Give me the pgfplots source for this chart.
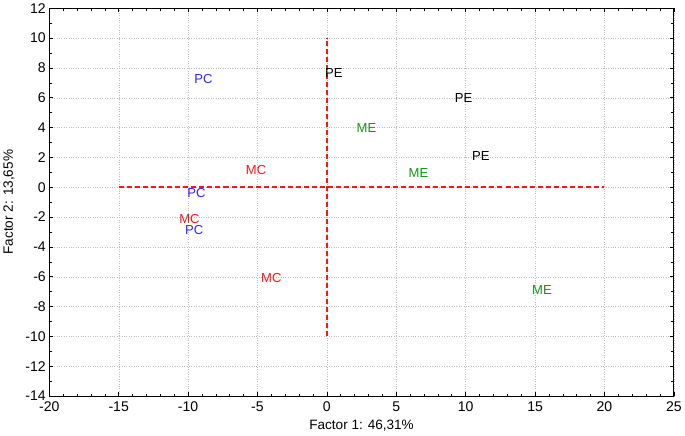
\documentclass[border=0pt]{standalone}
\usepackage{fontspec}
\setmainfont{Liberation Sans}
\usepackage{pgfplots}
\pgfplotsset{compat=1.18}
\definecolor{pcblue}{RGB}{40,40,255}
\definecolor{mcred}{RGB}{255,20,20}
\definecolor{megreen}{RGB}{20,150,20}
\begin{document}
\begin{tikzpicture}
\begin{axis}[
  set layers,
  scale only axis,
  width=620bp, height=385bp,
  xmin=-20, xmax=25, ymin=-14, ymax=12,
  xtick={-20,-15,...,25}, ytick={-14,-12,...,12},
  minor x tick num=4, minor y tick num=1,
  tick align=inside,
  major tick length=4bp, minor tick length=2.5bp,
  grid=major,
  major grid style={gray!50, dotted},
  axis line style={black, line width=0.8pt},
  every tick/.style={black, line width=0.6pt},
  /pgf/number format/assume math mode=true,
  tick label style={font=\fontsize{14}{16}\selectfont},
  xticklabel style={yshift=-2bp},
  label style={font=\fontsize{13.5}{16}\selectfont},
  xlabel={Factor 1: 46,31\%},
  ylabel={Factor 2: 13,65\%},
  xlabel style={yshift=-2bp},
  ylabel style={yshift=4bp},
  clip=false,
]
% reference lines
\addplot[color=mcred, dash pattern=on 5bp off 3bp, line width=1.6bp, mark=none, forget plot] coordinates {(-15,0) (20,0)};
\addplot[color=mcred, dash pattern=on 5bp off 3bp, line width=1.6bp, mark=none, forget plot] coordinates {(0,-10) (0,10)};
% PC
\addplot[color=pcblue, only marks, mark=none, point meta=explicit symbolic, nodes near coords, every node near coord/.append style={anchor=center, font=\fontsize{13}{15}\selectfont}] table[meta=label] {
x y label
-8.9 7.24 PC
-9.4 -0.4 PC
-9.56 -2.9 PC
};
% MC
\addplot[color=mcred, only marks, mark=none, point meta=explicit symbolic, nodes near coords, every node near coord/.append style={anchor=center, font=\fontsize{13}{15}\selectfont}] table[meta=label] {
x y label
-5.1 1.15 MC
-9.9 -2.1 MC
-4.0 -6.1 MC
};
% PE
\addplot[color=black, only marks, mark=none, point meta=explicit symbolic, nodes near coords, every node near coord/.append style={anchor=center, font=\fontsize{13}{15}\selectfont}] table[meta=label] {
x y label
0.5 7.65 PE
9.85 6.0 PE
11.1 2.1 PE
};
% ME
\addplot[color=megreen, only marks, mark=none, point meta=explicit symbolic, nodes near coords, every node near coord/.append style={anchor=center, font=\fontsize{13}{15}\selectfont}] table[meta=label] {
x y label
2.85 4.0 ME
6.6 0.95 ME
15.5 -6.9 ME
};
\end{axis}
\end{tikzpicture}
\end{document}
